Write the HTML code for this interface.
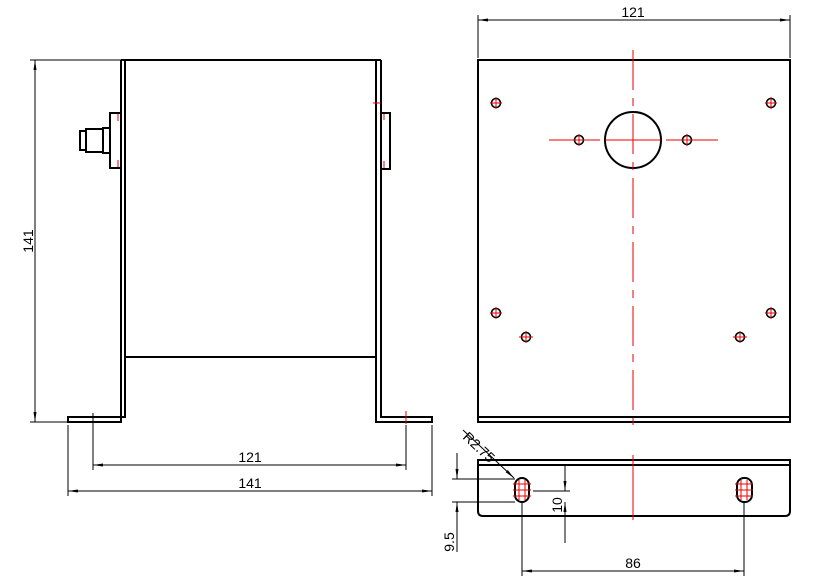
<!DOCTYPE html>
<html><head><style>body{margin:0;background:#fff}svg{display:block}text{font-family:"Liberation Sans",sans-serif;font-size:14px;fill:#000}</style></head><body>
<svg width="816" height="586" viewBox="0 0 816 586" xmlns="http://www.w3.org/2000/svg">
<defs><marker id="a" markerWidth="10" markerHeight="6" refX="10" refY="3" orient="auto-start-reverse" markerUnits="userSpaceOnUse"><path d="M0,1.5 L10,3 L0,4.5z" fill="#000"/></marker></defs>
<g fill="none" stroke="#000" stroke-width="2">
<!-- front view -->
<path d="M121,60 V422 H68 V417 H125 V60"/>
<path d="M381,60 V417 H432 V422 H376 V60"/>
<line x1="121" y1="60" x2="381" y2="60"/>
<line x1="125" y1="357" x2="376" y2="357"/>
<rect x="110" y="113" width="11" height="55"/>
<rect x="103" y="128" width="7" height="25"/>
<rect x="86" y="129" width="17" height="23"/>
<rect x="80" y="131" width="6" height="19"/>
<rect x="381" y="113" width="9" height="56"/>
<!-- right top view -->
<rect x="478" y="60" width="312" height="362"/>
<line x1="478" y1="417" x2="790" y2="417"/>
<circle cx="633" cy="140" r="28"/>
<g stroke-width="1.6"><circle cx="496" cy="103" r="4.5"/><circle cx="771" cy="103" r="4.5"/><circle cx="496" cy="313" r="4.5"/><circle cx="771" cy="313" r="4.5"/><circle cx="579" cy="140" r="4.5"/><circle cx="687" cy="140" r="4.5"/><circle cx="526" cy="337" r="4.5"/><circle cx="740" cy="337" r="4.5"/></g>
<!-- bottom view -->
<path d="M478,460 H790 V511 Q790,516 785,516 H483 Q478,516 478,511 Z"/>
<line x1="478" y1="465" x2="790" y2="465"/>
<rect x="515" y="478" width="14" height="24" rx="7"/>
<rect x="737" y="478" width="15" height="24" rx="7"/>
</g>
<g stroke="#e00" stroke-width="1" fill="none">
<line x1="118" y1="114" x2="118" y2="121"/><line x1="118" y1="160" x2="118" y2="167"/>
<line x1="373" y1="103" x2="381" y2="103"/><line x1="384" y1="114" x2="384" y2="120"/><line x1="384" y1="161" x2="384" y2="168"/>
<line x1="406" y1="411" x2="406" y2="424"/>
<line x1="633" y1="50" x2="633" y2="425" stroke-dasharray="40,8,8,8"/>
<path d="M549,140 H600 M605,140 H661 M666,140 H718"/>
<path d="M573,140 H585 M579,134 V146 M681,140 H693 M687,134 V146 M490,103 H502 M496,97 V109 M765,103 H777 M771,97 V109 M490,313 H502 M496,307 V319 M765,313 H777 M771,307 V319 M519,337 H533 M526,331 V343 M733,337 H747 M740,331 V343"/>
<line x1="633" y1="455" x2="633" y2="520"/>
<path d="M513,484 H531 M513,490 H531 M513,496 H531 M519,480 V500 M525,480 V500 M735,484 H753 M735,490 H753 M735,496 H753 M741,480 V500 M747,480 V500"/>
</g>
<g stroke="#000" stroke-width="1" fill="none">
<!-- left dim -->
<line x1="30" y1="60" x2="121" y2="60"/><line x1="30" y1="422" x2="68" y2="422"/>
<line x1="35" y1="60" x2="35" y2="422" marker-start="url(#a)" marker-end="url(#a)"/>
<line x1="93" y1="413" x2="93" y2="470"/><line x1="406" y1="425" x2="406" y2="470"/>
<line x1="68" y1="425" x2="68" y2="496"/><line x1="432" y1="425" x2="432" y2="496"/>
<line x1="93" y1="465" x2="406" y2="465" marker-start="url(#a)" marker-end="url(#a)"/>
<line x1="68" y1="491" x2="432" y2="491" marker-start="url(#a)" marker-end="url(#a)"/>
<!-- top right dim -->
<line x1="478" y1="15" x2="478" y2="58"/><line x1="790" y1="15" x2="790" y2="58"/>
<line x1="478" y1="20" x2="790" y2="20" marker-start="url(#a)" marker-end="url(#a)"/>
<!-- bottom dims -->
<line x1="452" y1="479" x2="515" y2="479"/><line x1="452" y1="502" x2="515" y2="502"/>
<line x1="457" y1="453" x2="457" y2="479" marker-end="url(#a)"/>
<line x1="457" y1="552" x2="457" y2="502" marker-end="url(#a)"/>
<line x1="533" y1="491" x2="570" y2="491"/>
<line x1="565" y1="466" x2="565" y2="491" marker-end="url(#a)"/>
<line x1="565" y1="543" x2="565" y2="502" marker-end="url(#a)"/>
<line x1="522" y1="503" x2="522" y2="576"/><line x1="744" y1="503" x2="744" y2="576"/>
<line x1="522" y1="571" x2="744" y2="571" marker-start="url(#a)" marker-end="url(#a)"/>
<line x1="463" y1="430" x2="514" y2="478" marker-end="url(#a)"/>
</g>
<text x="33" y="241" transform="rotate(-90 33 241)" text-anchor="middle">141</text>
<text x="250" y="462" text-anchor="middle">121</text>
<text x="250" y="488" text-anchor="middle">141</text>
<text x="633" y="17" text-anchor="middle">121</text>
<text x="633" y="568" text-anchor="middle">86</text>
<text x="562" y="505" transform="rotate(-90 562 505)" text-anchor="middle">10</text>
<text x="454" y="542" transform="rotate(-90 454 542)" text-anchor="middle">9.5</text>
<text x="462" y="438" transform="rotate(43 462 438)" font-size="13">R2.75</text>
</svg>
</body></html>
